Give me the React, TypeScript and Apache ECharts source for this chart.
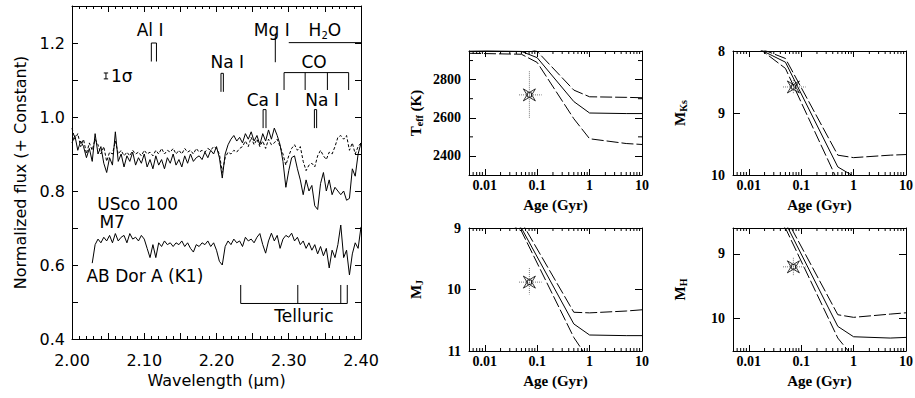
import React, { useEffect, useRef } from 'react';
import * as echarts from 'echarts';

// ---------------- Spectra (left panel) ----------------
const WAVE_START = 2.0;
const WAVE_STEP = 0.004;
const USCO100_FLUX = [
  0.93, 0.95, 0.91, 0.935, 0.92, 0.89, 0.915, 0.88, 0.955, 0.9,
  0.92, 0.875, 0.85, 0.89, 0.87, 0.96, 0.88, 0.9, 0.865, 0.895,
  0.88, 0.905, 0.87, 0.89, 0.875, 0.9, 0.865, 0.885, 0.86, 0.895,
  0.87, 0.885, 0.86, 0.89, 0.875, 0.9, 0.87, 0.885, 0.865, 0.895,
  0.875, 0.9, 0.88, 0.89, 0.895, 0.885, 0.905, 0.89, 0.91, 0.9,
  0.92, 0.89, 0.835, 0.9, 0.925, 0.94, 0.95, 0.935, 0.945, 0.93,
  0.955, 0.94, 0.96, 0.935, 0.95, 0.925, 0.955, 0.935, 0.965, 0.94,
  0.97, 0.95, 0.925, 0.88, 0.81, 0.855, 0.89, 0.895, 0.86, 0.83,
  0.79, 0.83, 0.8, 0.815, 0.76, 0.75, 0.82, 0.85, 0.8, 0.83,
  0.79, 0.81, 0.8, 0.79, 0.8, 0.775, 0.78, 0.86, 0.84, 0.9,
  0.93,
];
const M7_FLUX = [
  0.97, 0.94, 0.955, 0.92, 0.94, 0.9, 0.93, 0.91, 0.94, 0.925,
  0.9, 0.92, 0.88, 0.905, 0.9, 0.935, 0.9, 0.91, 0.895, 0.905,
  0.895, 0.91, 0.9, 0.905, 0.895, 0.91, 0.9, 0.905, 0.895, 0.91,
  0.9, 0.915, 0.9, 0.91, 0.905, 0.915, 0.9, 0.91, 0.9, 0.915,
  0.905, 0.91, 0.9, 0.915, 0.905, 0.91, 0.905, 0.915, 0.91, 0.92,
  0.915, 0.9, 0.85, 0.89, 0.905, 0.9, 0.91, 0.905, 0.915, 0.92,
  0.935, 0.92, 0.945, 0.925, 0.94, 0.92, 0.935, 0.915, 0.94, 0.925,
  0.93, 0.94, 0.92, 0.9, 0.87, 0.895, 0.915, 0.925, 0.91, 0.92,
  0.88, 0.855, 0.87, 0.875, 0.865, 0.895, 0.91, 0.895, 0.885, 0.905,
  0.9, 0.92, 0.945, 0.95, 0.94, 0.95, 0.91, 0.93, 0.9, 0.92,
  0.93,
];
const ABDOR_START = 2.028;
const ABDOR_FLUX = [
  0.605, 0.655, 0.67, 0.66, 0.675, 0.665, 0.68, 0.66, 0.685, 0.665,
  0.675, 0.68, 0.66, 0.685, 0.67, 0.675, 0.665, 0.68, 0.67, 0.645,
  0.62, 0.655, 0.62, 0.66, 0.65, 0.665, 0.655, 0.66, 0.65, 0.66,
  0.655, 0.665, 0.65, 0.66, 0.645, 0.635, 0.655, 0.65, 0.66, 0.655,
  0.665, 0.65, 0.66, 0.64, 0.61, 0.6, 0.65, 0.665, 0.655, 0.67,
  0.66, 0.665, 0.65, 0.675, 0.665, 0.67, 0.66, 0.675, 0.685, 0.655,
  0.632, 0.665, 0.686, 0.665, 0.68, 0.645, 0.67, 0.68, 0.675, 0.686,
  0.665, 0.675, 0.655, 0.665, 0.645, 0.66, 0.64, 0.655, 0.63, 0.65,
  0.625, 0.645, 0.592, 0.64, 0.62, 0.655, 0.708, 0.62, 0.64, 0.573,
  0.63, 0.66, 0.645, 0.703,
];

// line identifications (wavelengths in micron)
const AL_LINES = [2.1098, 2.1169];
const NA1_LINES = [2.2062, 2.2095];
const CA_LINES = [2.2645, 2.2685];
const NA2_LINES = [2.3355, 2.3386];
const MG_LINE = 2.2814;
const CO_HEADS = [2.2935, 2.3227, 2.3535, 2.3829];
const H2O_RANGE = [2.3, 2.4];
const TELLURIC_MARKS = [2.2335, 2.3125, 2.372, 2.381];
const SIGMA_BAR = { wave: 2.047, flux: 1.111, half: 0.008 };

const LABELS = [
  { t: '{n|Al I}', x: 2.108, y: 1.232, a: 'center' },
  { t: '{n|Na I}', x: 2.215, y: 1.146, a: 'center' },
  { t: '{n|Mg I}', x: 2.2765, y: 1.232, a: 'center' },
  { t: '{n|H}{s|2}{n|O}', x: 2.35, y: 1.232, a: 'center' },
  { t: '{n|CO}', x: 2.335, y: 1.146, a: 'center' },
  { t: '{n|Ca I}', x: 2.2645, y: 1.042, a: 'center' },
  { t: '{n|Na I}', x: 2.346, y: 1.042, a: 'center' },
  { t: '{n|1σ}', x: 2.054, y: 1.108, a: 'left' },
  { t: '{n|USco 100}', x: 2.035, y: 0.763, a: 'left' },
  { t: '{n|M7}', x: 2.038, y: 0.713, a: 'left' },
  { t: '{n|AB Dor A (K1)}', x: 2.02, y: 0.568, a: 'left' },
  { t: '{n|Telluric}', x: 2.28, y: 0.46, a: 'left' },
];

// ---------------- Evolutionary tracks (right panels) ----------------
const TEFF_HI = [[0.005, 2980], [0.05, 2975], [0.1, 2948], [0.5, 2745], [1, 2710], [5, 2707], [10, 2705]];
const TEFF_MID = [[0.005, 2955], [0.05, 2948], [0.1, 2915], [0.5, 2685], [1, 2625], [5, 2622], [10, 2622]];
const TEFF_LO = [[0.005, 2938], [0.05, 2933], [0.1, 2890], [0.5, 2595], [1, 2490], [5, 2465], [10, 2460]];

const MKS_HI = [[0.005, 7.79], [0.05, 8.12], [0.5, 9.68], [1, 9.72], [5, 9.68], [10, 9.67]];
const MKS_MID = [[0.005, 7.76], [0.05, 8.18], [0.5, 9.87], [1, 10.02], [10, 10.05]];
const MKS_LO = [[0.005, 7.64], [0.05, 8.28], [0.5, 10.1], [1, 10.4], [10, 10.6]];

const MJ_HI = [[0.005, 8.3], [0.05, 8.9], [0.5, 10.37], [1, 10.38], [5, 10.35], [10, 10.33]];
const MJ_MID = [[0.005, 8.4], [0.05, 9.0], [0.5, 10.56], [1, 10.74], [5, 10.75], [10, 10.75]];
const MJ_LO = [[0.005, 8.5], [0.05, 9.05], [0.5, 10.78], [1, 11.16], [10, 11.3]];

const MH_HI = [[0.005, 7.9], [0.05, 8.43], [0.5, 9.94], [1, 9.98], [5, 9.93], [10, 9.91]];
const MH_MID = [[0.005, 8.0], [0.05, 8.52], [0.5, 10.12], [1, 10.28], [5, 10.3], [10, 10.29]];
const MH_LO = [[0.005, 8.1], [0.05, 8.6], [0.5, 10.3], [1, 10.6], [10, 10.75]];

// the object (age with error range)
const STAR_AGE = 0.071;
const STAR_AGE_RANGE = [0.045, 0.122];
const STAR_TEFF = [2720, 2600, 2845];
const STAR_MKS = [8.58, 8.47, 8.68];
const STAR_MJ = [9.88, 9.65, 10.08];
const STAR_MH = [9.2, 9.06, 9.34];

const AGE_MINOR = [0.006, 0.007, 0.008, 0.009, 0.02, 0.03, 0.04, 0.05, 0.06, 0.07, 0.08, 0.09,
  0.2, 0.3, 0.4, 0.5, 0.6, 0.7, 0.8, 0.9, 2, 3, 4, 5, 6, 7, 8, 9];
const TEFF_MINOR = [2500, 2700, 2900];

const SANS = 'DejaVu Sans';
const SERIF = 'Liberation Serif';
const BLACK = '#000';
const STAR_PATH = 'path://M-10,-10 L0,-4 L10,-10 L4,0 L10,10 L0,4 L-10,10 L-4,0 Z M-3.5,-3.5 L3.5,-3.5 L3.5,3.5 L-3.5,3.5 Z';

function buildOption() {
  const spectrum = (start: number, vals: number[]) =>
    vals.map((v, i) => [Number((start + i * WAVE_STEP).toFixed(4)), v]);

  // annotation segments [x1, y1, x2, y2]
  const segs: number[][] = [];
  const pi = (w: number[], lo: number, hi: number) => {
    segs.push([w[0], lo, w[0], hi], [w[1], lo, w[1], hi], [w[0], hi, w[1], hi]);
  };
  pi(AL_LINES, 1.15, 1.2);
  pi(NA1_LINES, 1.068, 1.118);
  pi(CA_LINES, 0.97, 1.02);
  pi(NA2_LINES, 0.97, 1.02);
  segs.push([MG_LINE, 1.148, MG_LINE, 1.225]);
  segs.push([H2O_RANGE[0], 1.201, H2O_RANGE[1], 1.201]);
  segs.push([CO_HEADS[0], 1.12, CO_HEADS[3], 1.12]);
  CO_HEADS.forEach((w) => segs.push([w, 1.12, w, 1.073]));
  segs.push([TELLURIC_MARKS[0], 0.496, TELLURIC_MARKS[3], 0.496]);
  TELLURIC_MARKS.forEach((w) => segs.push([w, 0.496, w, 0.546]));
  const sb = SIGMA_BAR;
  segs.push([sb.wave, sb.flux - sb.half, sb.wave, sb.flux + sb.half]);
  segs.push([sb.wave - 0.003, sb.flux - sb.half, sb.wave + 0.003, sb.flux - sb.half]);
  segs.push([sb.wave - 0.003, sb.flux + sb.half, sb.wave + 0.003, sb.flux + sb.half]);

  const sansText = { fontFamily: SANS, fontSize: 16, color: BLACK };
  const serifText = { fontFamily: SERIF, fontSize: 14, fontWeight: 'bold', color: BLACK };
  const line = { show: true, lineStyle: { color: BLACK, width: 1 } };

  const grids = [
    { left: 72, top: 6, width: 289, height: 333 },
    { left: 469, top: 51, width: 173, height: 124 },
    { left: 733, top: 51, width: 173, height: 124 },
    { left: 469, top: 228, width: 173, height: 123 },
    { left: 733, top: 228, width: 173, height: 123 },
  ].map((g) => ({ ...g, containLabel: false, outerBoundsMode: 'none' }));

  const xAxis: any[] = [];
  const yAxis: any[] = [];

  // left panel axes
  const leftX = {
    gridIndex: 0, type: 'value', min: 2.0, max: 2.4, interval: 0.05,
    axisLine: line, splitLine: { show: false },
    axisTick: { inside: true, length: 6, lineStyle: { color: BLACK } },
    minorTick: { show: true, splitNumber: 5, length: 3, lineStyle: { color: BLACK } },
  };
  xAxis.push({
    ...leftX, position: 'bottom',
    axisLabel: {
      ...sansText, margin: 13, showMinLabel: true, showMaxLabel: true,
      formatter: (v: number) => (Math.abs(v * 10 - Math.round(v * 10)) < 1e-6 ? v.toFixed(2) : ''),
    },
    name: 'Wavelength (μm)', nameLocation: 'middle', nameGap: 32, nameTextStyle: sansText,
  });
  xAxis.push({ ...leftX, position: 'top', axisLabel: { show: false } });
  const leftY = {
    gridIndex: 0, type: 'value', min: 0.4, max: 1.3, interval: 0.1,
    axisLine: line, splitLine: { show: false },
    axisTick: { inside: true, length: 6, lineStyle: { color: BLACK } },
  };
  yAxis.push({
    ...leftY, position: 'left',
    axisLabel: {
      ...sansText, margin: 7,
      formatter: (v: number) => (Math.round(v * 10) % 2 === 0 ? v.toFixed(1) : ''),
    },
    name: 'Normalized flux (+ Constant)', nameLocation: 'middle', nameGap: 44, nameTextStyle: sansText,
  });
  yAxis.push({ ...leftY, position: 'right', axisLabel: { show: false } });

  // right panels
  const subRich = {
    a: { fontFamily: SERIF, fontSize: 15, fontWeight: 'bold', color: BLACK, lineHeight: 16, verticalAlign: 'top' },
    s: { fontFamily: SERIF, fontSize: 10, fontWeight: 'bold', color: BLACK, lineHeight: 10, verticalAlign: 'bottom', padding: [9, 0, 0, 0] },
  };
  const panels = [
    { g: 1, yName: '{a|T}{s|eff}{a| (K)}', y: { min: 2300, max: 2950, minInterval: 200, maxInterval: 200, splitNumber: 3 }, fmt: (v: number) => (v % 200 === 0 && v >= 2400 && v <= 2800 ? String(v) : '') },
    { g: 2, yName: '{a|M}{s|Ks}', y: { min: 8, max: 10, interval: 1, inverse: true }, fmt: (v: number) => String(v) },
    { g: 3, yName: '{a|M}{s|J}', y: { min: 9, max: 11, interval: 1, inverse: true }, fmt: (v: number) => String(v) },
    { g: 4, yName: '{a|M}{s|H}', y: { min: 8.6, max: 10.5, minInterval: 1, maxInterval: 1, splitNumber: 2, inverse: true }, fmt: (v: number) => (Math.abs(v - Math.round(v)) < 1e-6 ? String(Math.round(v)) : '') },
  ];
  panels.forEach((p) => {
    const bx = {
      gridIndex: p.g, type: 'log', logBase: 10, min: 0.005, max: 10,
      axisLine: line, splitLine: { show: false },
      axisTick: { inside: true, length: 6, lineStyle: { color: BLACK } },
    };
    xAxis.push({
      ...bx, position: 'bottom',
      axisLabel: {
        ...serifText, margin: 3, showMinLabel: true, showMaxLabel: true,
        formatter: (v: number) => {
          const l = Math.log10(v);
          if (Math.abs(l - Math.round(l)) > 1e-6) return '';
          return String(Math.pow(10, Math.round(l)));
        },
      },
      name: 'Age (Gyr)', nameLocation: 'middle', nameGap: 22, nameTextStyle: { ...serifText, fontSize: 15 },
    });
    xAxis.push({ ...bx, position: 'top', axisLabel: { show: false } });
    const by = {
      gridIndex: p.g, type: 'value', ...p.y,
      axisLine: line, splitLine: { show: false },
      axisTick: { inside: true, length: 7, lineStyle: { color: BLACK } },
    };
    yAxis.push({
      ...by, position: 'left',
      axisLabel: { ...serifText, margin: 8, showMinLabel: true, showMaxLabel: true, formatter: p.fmt },
      name: p.yName, nameLocation: 'middle', nameGap: 45, nameTextStyle: { rich: subRich },
    });
    yAxis.push({ ...by, position: 'right', axisLabel: { show: false } });
  });

  const series: any[] = [];
  // spectra
  series.push({ type: 'line', xAxisIndex: 0, yAxisIndex: 0, data: spectrum(WAVE_START, M7_FLUX), symbol: 'none', lineStyle: { color: BLACK, width: 1, type: [3, 2] } });
  series.push({ type: 'line', xAxisIndex: 0, yAxisIndex: 0, data: spectrum(WAVE_START, USCO100_FLUX), symbol: 'none', lineStyle: { color: BLACK, width: 1 } });
  series.push({ type: 'line', xAxisIndex: 0, yAxisIndex: 0, data: spectrum(ABDOR_START, ABDOR_FLUX), symbol: 'none', lineStyle: { color: BLACK, width: 1 } });
  // annotation segments
  series.push({
    type: 'custom', xAxisIndex: 0, yAxisIndex: 0, silent: true, data: segs,
    renderItem: (_p: any, api: any) => {
      const a = api.coord([api.value(0), api.value(1)]);
      const b = api.coord([api.value(2), api.value(3)]);
      return { type: 'line', shape: { x1: a[0], y1: a[1], x2: b[0], y2: b[1] }, style: { stroke: BLACK, lineWidth: 1 } };
    },
  });
  // annotation texts
  series.push({
    type: 'custom', xAxisIndex: 0, yAxisIndex: 0, silent: true,
    data: LABELS.map((l) => [l.x, l.y]),
    renderItem: (p: any, api: any) => {
      const c = api.coord([api.value(0), api.value(1)]);
      const l = LABELS[p.dataIndex];
      return {
        type: 'text', x: c[0], y: c[1],
        style: {
          text: l.t, align: l.a, verticalAlign: 'middle',
          rich: {
            n: { fontFamily: SANS, fontSize: 17, fill: BLACK, lineHeight: 19, verticalAlign: 'top' },
            s: { fontFamily: SANS, fontSize: 10, fill: BLACK, lineHeight: 10, verticalAlign: 'bottom', padding: [10, 0, 0, 0] },
          },
        },
      };
    },
  });

  // minor ticks on right panels
  const minorTicks = (gi: number, yRef: number, yMinor: number[]) => ({
    type: 'custom', xAxisIndex: gi * 2, yAxisIndex: gi * 2, silent: true, z: 5,
    data: [...AGE_MINOR.map((v) => [v, yRef, 0]), ...yMinor.map((v) => [1, v, 1])],
    renderItem: (params: any, api: any) => {
      const cs = params.coordSys;
      const c = api.coord([api.value(0), api.value(1)]);
      const st = { stroke: BLACK, lineWidth: 1 };
      const L = 3;
      if (api.value(2) === 0) {
        return {
          type: 'group', children: [
            { type: 'line', shape: { x1: c[0], y1: cs.y + cs.height, x2: c[0], y2: cs.y + cs.height - L }, style: st },
            { type: 'line', shape: { x1: c[0], y1: cs.y, x2: c[0], y2: cs.y + L }, style: st },
          ],
        };
      }
      return {
        type: 'group', children: [
          { type: 'line', shape: { x1: cs.x, y1: c[1], x2: cs.x + L + 1, y2: c[1] }, style: st },
          { type: 'line', shape: { x1: cs.x + cs.width, y1: c[1], x2: cs.x + cs.width - L - 1, y2: c[1] }, style: st },
        ],
      };
    },
  });

  const dashed = [12, 3];
  const trackSet = [
    { gi: 1, hi: TEFF_HI, mid: TEFF_MID, lo: TEFF_LO, star: STAR_TEFF, yRef: 2600, yMinor: TEFF_MINOR },
    { gi: 2, hi: MKS_HI, mid: MKS_MID, lo: MKS_LO, star: STAR_MKS, yRef: 9, yMinor: [] },
    { gi: 3, hi: MJ_HI, mid: MJ_MID, lo: MJ_LO, star: STAR_MJ, yRef: 10, yMinor: [] },
    { gi: 4, hi: MH_HI, mid: MH_MID, lo: MH_LO, star: STAR_MH, yRef: 9.5, yMinor: [] },
  ];
  trackSet.forEach((t) => {
    const ax = { xAxisIndex: t.gi * 2, yAxisIndex: t.gi * 2 };
    series.push({ type: 'line', ...ax, data: t.hi, symbol: 'none', clip: true, lineStyle: { color: BLACK, width: 1, type: dashed } });
    series.push({ type: 'line', ...ax, data: t.mid, symbol: 'none', clip: true, lineStyle: { color: BLACK, width: 1 } });
    series.push({ type: 'line', ...ax, data: t.lo, symbol: 'none', clip: true, lineStyle: { color: BLACK, width: 1, type: dashed } });
    series.push({ type: 'line', ...ax, data: [[STAR_AGE_RANGE[0], t.star[0]], [STAR_AGE_RANGE[1], t.star[0]]], symbol: 'none', lineStyle: { color: '#777', width: 1, type: 'dotted' } });
    series.push({ type: 'line', ...ax, data: [[STAR_AGE, t.star[1]], [STAR_AGE, t.star[2]]], symbol: 'none', lineStyle: { color: '#777', width: 1, type: 'dotted' } });
    series.push({
      type: 'scatter', ...ax, data: [[STAR_AGE, t.star[0]]], symbol: STAR_PATH, symbolSize: 12, z: 6,
      itemStyle: { color: 'rgba(0,0,0,0)', borderColor: BLACK, borderWidth: 1 },
    });
    series.push(minorTicks(t.gi, t.yRef, t.yMinor));
  });

  return { animation: false, backgroundColor: '#fff', grid: grids, xAxis, yAxis, series };
}

export default function App() {
  const ref = useRef<HTMLDivElement>(null);
  useEffect(() => {
    if (!ref.current) return;
    const chart = echarts.init(ref.current, undefined, { renderer: 'svg' });
    chart.setOption(buildOption() as any);
    return () => chart.dispose();
  }, []);
  return <div ref={ref} style={{ position: 'fixed', left: 0, top: 0, width: 915, height: 398, background: '#fff' }} />;
}
